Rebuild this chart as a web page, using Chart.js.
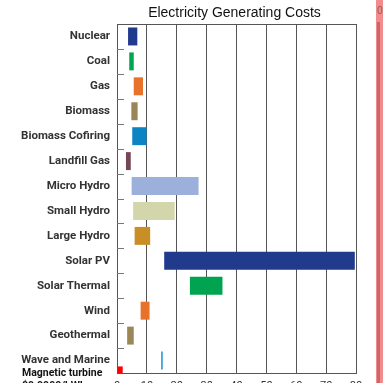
<!DOCTYPE html>
<html>
<head>
<meta charset="utf-8">
<script src="https://cdn.jsdelivr.net/npm/chart.js@4/dist/chart.umd.min.js"></script>
<style>
  html, body { margin: 0; padding: 0; background: #fff; overflow: hidden; width: 383px; height: 383px; }
  #wrap { position: relative; width: 383px; height: 400px; }
  #title { position: absolute; left: 115px; width: 239px; top: 4px; text-align: center;
           font-family: 'Liberation Sans', Arial, sans-serif; font-size: 14px; color: #111; line-height: 16px; }
  #mag { position: absolute; left: 22px; top: 366px; font-family: 'Roboto', sans-serif; font-weight: bold;
         font-size: 10.5px; color: #111; line-height: 13px; }
  #strip { position: absolute; left: 376px; top: 0; width: 7px; height: 400px; background: #f28c8c; }
  #stripline { position: absolute; left: 377px; top: 22px; width: 3px; height: 380px; background: #c86868; }
  #stripnum { position: absolute; left: 377px; top: 5px; font-family: 'Liberation Sans', sans-serif; font-size: 10px; color: #a05050; }
</style>
</head>
<body>
<div id="wrap">
  <canvas id="c" width="383" height="400"></canvas>
  <div id="title">Electricity Generating Costs</div>
  <div id="mag">Magnetic turbine<br>$0.0000/kWh</div>
  <div id="strip"></div>
  <div id="stripline"></div>
  <div id="stripnum">0</div>
</div>
<script>
const categories = ['Nuclear','Coal','Gas','Biomass','Biomass Cofiring','Landfill Gas','Micro Hydro','Small Hydro','Large Hydro','Solar PV','Solar Thermal','Wind','Geothermal','Wave and Marine'];
const costLow  = [3.7, 4.1, 5.6, 4.8, 5.1, 3.0, 4.9, 5.4, 5.9, 15.8, 24.4, 7.9, 3.4, 14.8];
const costHigh = [6.8, 5.6, 8.7, 6.9, 9.9, 4.6, 27.3, 19.3, 11.1, 79.6, 35.3, 10.9, 5.6, 15.3];
const barColors = ['#213b8c','#00a550','#e8712b','#9a8657','#0b84c4','#744656','#9bb1dc','#d3d6aa','#c98f27','#213b8c','#00a34f','#e8712b','#9a8657','#1b90d4'];
const magneticCost = [0, 1.8];
const xTicks = [0,10,20,30,40,50,60,70,80];

const costRanges = categories.map((c, i) => [costLow[i], costHigh[i]]);

const frame = {
  id: 'frame',
  afterDatasetsDraw(chart) {
    const {ctx, chartArea: a} = chart;
    const y = chart.scales.y;
    ctx.save();
    ctx.strokeStyle = '#555';
    ctx.lineWidth = 1;
    ctx.strokeRect(Math.round(a.left) + 0.5, Math.round(a.top) + 0.5, Math.round(a.right - a.left), Math.round(a.bottom - a.top));
    ctx.strokeStyle = '#777';
    for (let i = 0; i < categories.length - 1; i++) {
      const yy = Math.round((y.getPixelForTick(i) + y.getPixelForTick(i + 1)) / 2) + 0.5;
      ctx.beginPath();
      ctx.moveTo(a.left, yy);
      ctx.lineTo(a.left + 7, yy);
      ctx.stroke();
    }
    ctx.restore();
  }
};

new Chart(document.getElementById('c'), {
  type: 'bar',
  data: {
    labels: categories,
    datasets: [{
      data: costRanges,
      backgroundColor: barColors,
      borderWidth: 0,
      barPercentage: 0.72,
      categoryPercentage: 1,
      grouped: false,
      yAxisID: 'y'
    }, {
      data: [{x: magneticCost, y: 0.13}],
      backgroundColor: '#ff0000',
      borderWidth: 0,
      barThickness: 6,
      grouped: false,
      yAxisID: 'y2'
    }]
  },
  options: {
    indexAxis: 'y',
    responsive: false,
    animation: false,
    layout: { padding: { left: 0, right: 27, top: 24, bottom: 0 } },
    plugins: { legend: { display: false }, title: { display: false }, tooltip: { enabled: false } },
    scales: {
      x: {
        type: 'linear', min: 0, max: 80,
        afterBuildTicks(s) { s.ticks = xTicks.map(v => ({value: v})); },
        afterFit(s) { s.height = 27; },
        grid: { color: '#555', lineWidth: 1, drawTicks: false },
        border: { display: true, color: '#555' },
        ticks: { padding: 7, color: '#333', font: { family: 'Roboto', size: 11 } }
      },
      y: {
        type: 'category',
        afterFit(s) { s.width = 117; },
        grid: { display: false, drawTicks: false },
        border: { display: true, color: '#555' },
        ticks: { padding: 7, color: '#333', font: { family: 'Roboto', size: 11.5, weight: 'bold' } }
      },
      y2: {
        type: 'linear', min: 0, max: 14, offset: false, display: false
      }
    }
  },
  plugins: [frame]
});
</script>
</body>
</html>
